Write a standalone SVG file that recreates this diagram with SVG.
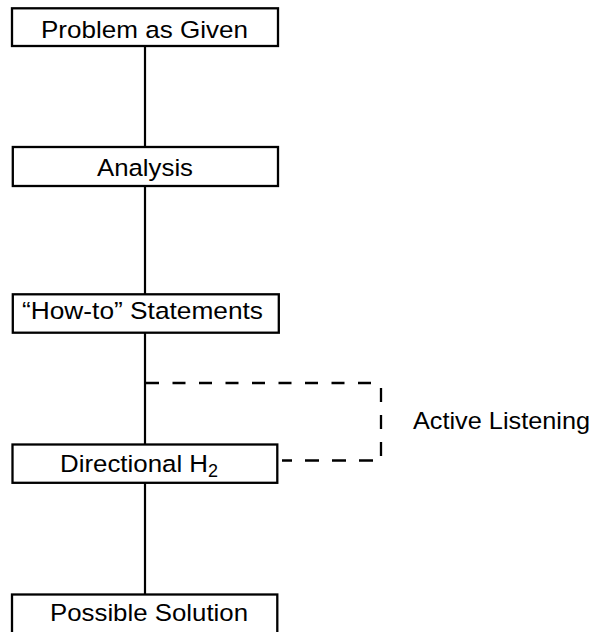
<svg xmlns="http://www.w3.org/2000/svg" width="598" height="632" viewBox="0 0 598 632">
  <style>
    .box { fill: #ffffff; stroke: #000000; stroke-width: 2.3; }
    .lbl { font-family: "Liberation Sans", Arial, Helvetica, sans-serif; font-size: 24.5px; fill: #000000; text-anchor: start; }
    .link { fill: none; stroke: #000000; stroke-width: 2.2; }
    .dash { fill: none; stroke: #000000; stroke-width: 2.3; }
  </style>
  <rect width="598" height="632" fill="#ffffff"/>

  <!-- connectors -->
  <g id="connectors">
    <line class="link" x1="145" y1="46" x2="145" y2="147"/>
    <line class="link" x1="145" y1="186" x2="145" y2="294"/>
    <line class="link" x1="145" y1="333" x2="145" y2="444"/>
    <line class="link" x1="145" y1="483" x2="145" y2="594"/>
    <!-- feedback loop -->
    <line class="dash" x1="146" y1="383" x2="374" y2="383" stroke-dasharray="13 13.5"/>
    <line class="dash" x1="381" y1="388" x2="381" y2="458" stroke-dasharray="14 13"/>
    <line class="dash" x1="373" y1="460.5" x2="282" y2="460.5" stroke-dasharray="14 13"/>
  </g>

  <g id="problem">
    <rect class="box" x="12" y="8.3" width="266" height="37.7"/>
    <text class="lbl" x="41" y="37.5" textLength="207" lengthAdjust="spacingAndGlyphs">Problem as Given</text>
  </g>

  <g id="analysis">
    <rect class="box" x="12.8" y="147" width="265.2" height="39"/>
    <text class="lbl" x="97" y="176" textLength="96" lengthAdjust="spacingAndGlyphs">Analysis</text>
  </g>

  <g id="howto">
    <rect class="box" x="12.8" y="294.3" width="266" height="38.4"/>
    <text class="lbl" x="22" y="319" textLength="241" lengthAdjust="spacingAndGlyphs">“How-to” Statements</text>
  </g>

  <g id="directional">
    <rect class="box" x="12.5" y="444.5" width="264.8" height="38.3"/>
    <text class="lbl" x="60" y="471.7"><tspan textLength="148" lengthAdjust="spacingAndGlyphs">Directional H</tspan><tspan dy="5" font-size="18">2</tspan></text>
  </g>

  <g id="solution">
    <rect class="box" x="12" y="594.5" width="265.3" height="45"/>
    <text class="lbl" x="50" y="620.7" textLength="198" lengthAdjust="spacingAndGlyphs">Possible Solution</text>
  </g>

  <g id="active-listening">
    <text class="lbl" x="413" y="429" textLength="177" lengthAdjust="spacingAndGlyphs">Active Listening</text>
  </g>
</svg>
